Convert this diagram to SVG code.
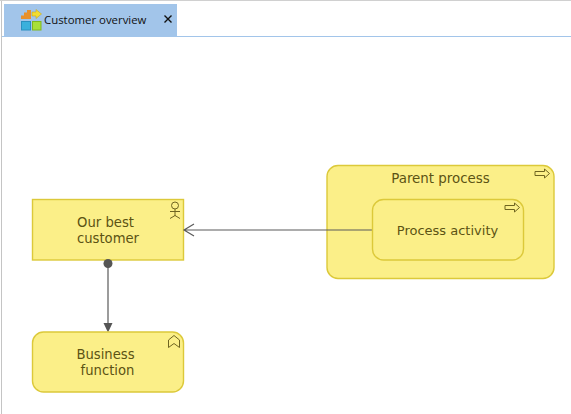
<svg xmlns="http://www.w3.org/2000/svg" width="571" height="414" viewBox="0 0 571 414">
<style>
.n{fill:#fbef88;stroke:#dcc93a;stroke-width:1.4}
.t{font-family:"DejaVu Sans",sans-serif;font-size:13.2px;fill:#5c5314;text-anchor:middle}
.i{fill:none;stroke:#6e6420;stroke-width:1}
.c{fill:none;stroke:#5a5a5a;stroke-width:1.2}
</style>
<rect width="571" height="414" fill="#fff"/>
<g id="chrome">
<rect x="0" y="0" width="571" height="1" fill="#d0d0d0"/>
<rect x="1" y="1" width="1" height="413" fill="#c4c4c4"/>
<rect x="4" y="4" width="173" height="32" fill="#a2c5ea"/>
<rect x="2" y="36" width="569" height="1" fill="#a2c5ea"/>
<g id="tab-icon">
<path d="M21 19v-3.500h3v-3h3v-2.500h4v9z" fill="#e8902a"/>
<path d="M32 12h4v-2.500l5.500 4.500l-5.500 4.500v-2.500h-4z" fill="#f2dc30" stroke="#c8a820" stroke-width=".6"/>
<rect x="21.500" y="21.500" width="9" height="8.500" fill="#3ab0dc" stroke="#2a90c0"/>
<rect x="32.500" y="21.500" width="8.500" height="8.500" fill="#a8e03a" stroke="#80b820"/>
</g>
<text x="44" y="24" style="font-family:'Open Sans','Noto Sans',sans-serif;font-size:11.4px;fill:#111">Customer overview</text>
<path d="M164.500 15.500l7 7m0-7l-7 7" fill="none" stroke="#111" stroke-width="1.400"/>
</g>
<g id="our-best-customer">
<rect class="n" x="32.500" y="199.500" width="151" height="60.500"/>
<circle class="i" cx="175" cy="205.500" r="3.500"/>
<path class="i" d="M175 209v7M170 211.500h10M170 218.500l5-3l5 3"/>
<text class="t" x="105.500" y="227">Our best</text>
<text class="t" x="108" y="243">customer</text>
</g>
<g id="parent-process">
<rect class="n" x="327" y="165.500" width="227" height="113" rx="11"/>
<path class="i" d="M535 171.500h9.500v-2.500l5 4.500l-5 4.500v-2.500h-9.500z"/>
<text class="t" x="440.500" y="183" style="font-size:13.4px">Parent process</text>
</g>
<g id="connectors">
<path class="c" d="M372 230H184M194 224L184 230L194 236"/>
<path class="c" d="M108 263V325"/>
<circle cx="108" cy="263.500" r="4.500" fill="#555"/>
<path d="M103.500 323h9L108 332.500z" fill="#555"/>
</g>
<g id="process-activity">
<rect class="n" x="372.500" y="199.500" width="151" height="60.500" rx="11"/>
<path class="i" d="M505 205.500h9.500v-2.500l5 4.500l-5 4.500v-2.500h-9.500z"/>
<text class="t" x="447.500" y="235" style="font-size:13px">Process activity</text>
</g>
<g id="business-function">
<rect class="n" x="32.500" y="332" width="151" height="60" rx="11"/>
<path class="i" d="M168.500 340l5.500-4.500l5.500 4.500v7.500l-5.500-4l-5.500 4z"/>
<text class="t" x="105.500" y="359">Business</text>
<text class="t" x="107.500" y="375">function</text>
</g>
</svg>
